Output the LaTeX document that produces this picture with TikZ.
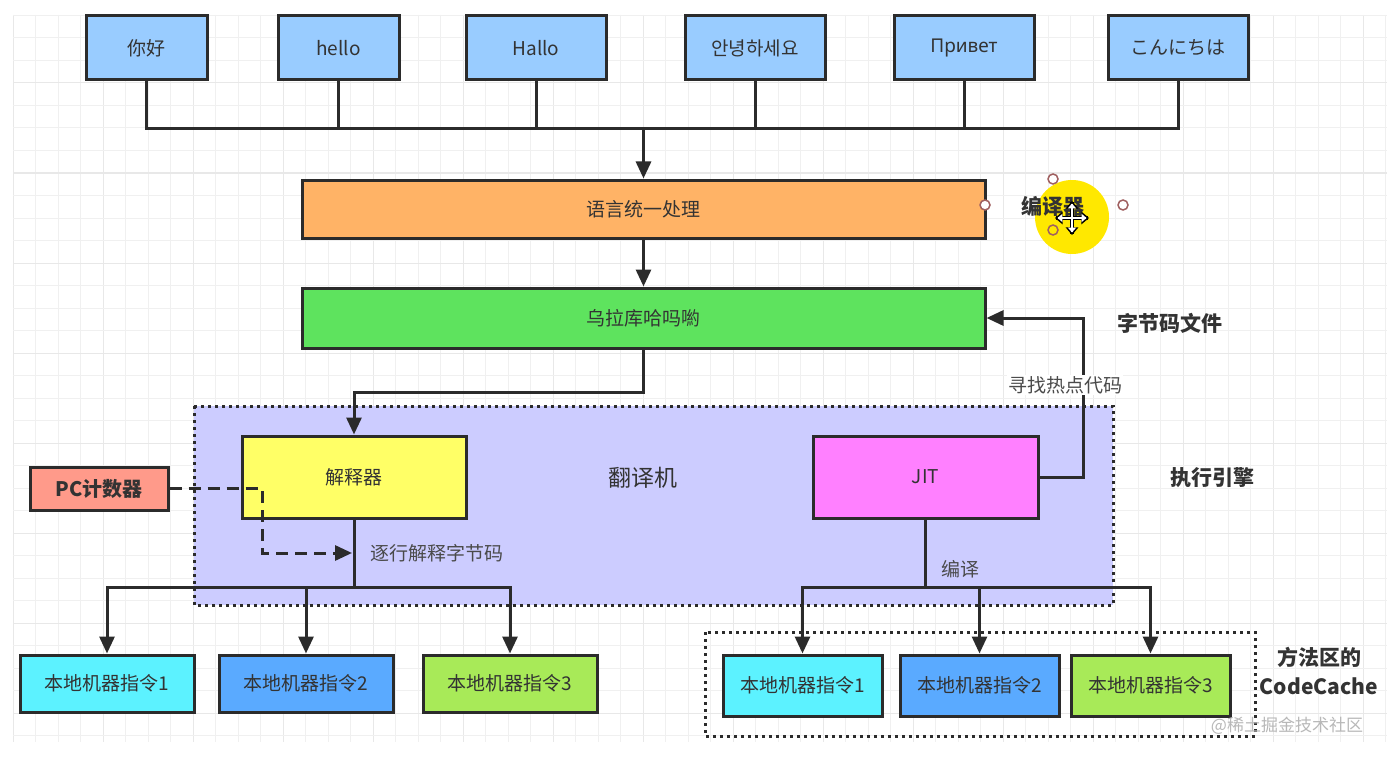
\documentclass[tikz,border=0pt]{standalone}
\usepackage{fontspec}
\setmainfont{Noto Sans CJK SC}
\newfontfamily\krfont{Noto Sans CJK KR}
\newfontfamily\rufont{Noto Sans}
\usetikzlibrary{arrows.meta,calc}
\definecolor{topblue}{HTML}{99CCFF}
\definecolor{orangec}{HTML}{FFB366}
\definecolor{greenc}{HTML}{5EE35E}
\definecolor{regionc}{HTML}{CCCCFF}
\definecolor{yellowc}{HTML}{FFFF66}
\definecolor{magc}{HTML}{FF80FF}
\definecolor{pcc}{HTML}{FF9A8A}
\definecolor{cyanc}{HTML}{5CF2FF}
\definecolor{bluec}{HTML}{5AAAFF}
\definecolor{limec}{HTML}{A8EA58}
\definecolor{linec}{HTML}{2B2B2B}
\definecolor{txtc}{HTML}{333333}
\definecolor{lbltxt}{HTML}{4A4A4A}
\definecolor{gridminor}{HTML}{F0F0F0}
\definecolor{gridmajor}{HTML}{E8E8E8}
\definecolor{hilite}{HTML}{FFE800}
\definecolor{handlec}{HTML}{A06060}
\tikzset{
  box/.style={draw=linec, line width=3pt, rectangle, text=txtc, inner sep=0pt,
    font=\fontsize{19pt}{23pt}\selectfont},
  conn/.style={draw=linec, line width=3pt},
  arr/.style={conn, -{Triangle[length=17pt,width=15pt]}},
  lbl/.style={text=lbltxt, inner sep=1pt, font=\fontsize{19pt}{23pt}\selectfont},
  bigl/.style={text=txtc, inner sep=0pt, font=\fontsize{21pt}{26pt}\selectfont\bfseries},
  regionbox/.style={draw=linec, line width=3pt, dash pattern=on 3pt off 4pt},
  handle/.style={draw=handlec, line width=1.5pt, fill=white, circle, minimum size=10pt, inner sep=0pt},
}
\begin{document}
\begin{tikzpicture}[x=1pt,y=-1pt]
\useasboundingbox (0,0) rectangle (1387,757);
\fill[white] (0,0) rectangle (1387,757);
% grid
\foreach \k in {0,...,61}{
  \pgfmathtruncatemacro{\m}{mod(\k,4)}
  \ifnum\m=0 \def\gc{gridmajor}\else\def\gc{gridminor}\fi
  \draw[\gc, line width=1pt] ({13+\k*22.5},15) -- ({13+\k*22.5},742);
}
\foreach \k in {0,...,32}{
  \pgfmathtruncatemacro{\m}{mod(\k,4)}
  \ifnum\m=3 \def\gc{gridmajor}\else\def\gc{gridminor}\fi
  \draw[\gc, line width=1pt] (13,{15.5+\k*22.5}) -- (1387,{15.5+\k*22.5});
}
% region
\fill[regionc] (194,406) rectangle (1113,605);
\draw[regionbox] (194,406) rectangle (1113,605);
\draw[regionbox] (705,632) rectangle (1255,736);

% top boxes
\node[box, fill=topblue, minimum width=121pt, minimum height=64pt] (n1) at (146.5,48) {你好};
\node[box, fill=topblue, minimum width=121pt, minimum height=64pt] (n2) at (338.5,48) {hello};
\node[box, fill=topblue, minimum width=140pt, minimum height=64pt] (n3) at (536,48) {Hallo};
\node[box, fill=topblue, minimum width=140pt, minimum height=64pt] (n4) at (755,48) {\krfont 안녕하세요};
\node[box, fill=topblue, minimum width=140pt, minimum height=64pt] (n5) at (964,48) {\rufont Привет};
\node[box, fill=topblue, minimum width=140pt, minimum height=64pt] (n6) at (1178,48) {こんにちは};

\node[box, fill=orangec, minimum width=683pt, minimum height=58pt] (uni) at (643.5,209) {语言统一处理};
\node[box, fill=greenc, minimum width=683pt, minimum height=60pt] (byte) at (643.5,318) {乌拉库哈吗喲};

\node[box, fill=yellowc, minimum width=224pt, minimum height=82pt] (interp) at (354,477) {解释器};
\node[box, fill=magc, minimum width=225pt, minimum height=82pt] (jit) at (925.5,477) {JIT};
\node[text=txtc, font=\fontsize{23pt}{28pt}\selectfont] (trans) at (643,478) {翻译机};
\node[box, fill=pcc, minimum width=138pt, minimum height=43pt, font=\fontsize{20pt}{24pt}\selectfont\bfseries] (pc) at (99,488.5) {PC计数器};

\node[box, fill=cyanc, minimum width=174pt, minimum height=57pt] (l1) at (107,683.5) {本地机器指令1};
\node[box, fill=bluec, minimum width=174pt, minimum height=57pt] (l2) at (306,683.5) {本地机器指令2};
\node[box, fill=limec, minimum width=174pt, minimum height=57pt] (l3) at (510,683.5) {本地机器指令3};
\node[box, fill=cyanc, minimum width=159pt, minimum height=61pt] (r1) at (802.5,685.5) {本地机器指令1};
\node[box, fill=bluec, minimum width=159pt, minimum height=61pt] (r2) at (979.5,685.5) {本地机器指令2};
\node[box, fill=limec, minimum width=159pt, minimum height=61pt] (r3) at (1150.5,685.5) {本地机器指令3};

% top connectors
\coordinate (bus) at (643.5,129);
\foreach \n in {n1,n2,n3,n4,n5,n6}{ \draw[conn] (\n.south) |- (bus); }
\draw[arr] (bus) -- (uni.north);
\draw[arr] (uni.south) -- (byte.north);
\coordinate (b1) at (643.5,392);
\draw[arr] (byte.south) -- (b1) -| (interp.north);

% JIT back to bytecode
\coordinate (jr) at (1083,477);
\draw[arr] (jit.east) -- (jr) |- (byte.east);
\node[lbl, fill=white] (hot) at (1065,385) {寻找热点代码};

% PC dashed
\coordinate (pcbend) at (262,553);
\coordinate (pcend) at (352,553);
\draw[conn, dash pattern=on 12pt off 7pt, -{Triangle[length=17pt,width=15pt]}] (pc.east) -| (pcbend) -- (pcend);
\node[lbl] (zhu) at (437,553) {逐行解释字节码};

% interp outputs
\coordinate (ib) at (354,587);
\draw[conn] (interp.south) -- (ib);
\draw[arr] (ib) -| (l1.north);
\draw[arr] (ib) -| (l2.north);
\draw[arr] (ib) -| (l3.north);

% JIT outputs
\coordinate (jb) at (925.5,587);
\draw[conn] (jit.south) -- (jb);
\draw[arr] (jb) -| (r1.north);
\draw[arr] (jb) -| (r2.north);
\draw[arr] (jb) -| (r3.north);
\node[lbl] (bianyi) at (960,569) {编译};

% side labels
\fill[hilite] (1072,217) circle (37);
\node[bigl] (comp) at (1053,206) {编译器};
\node[handle] (h1) at (985,205) {};
\node[handle] (h2) at (1053,179) {};
\node[handle] (h3) at (1123,205) {};
\node[handle, fill=hilite] (h4) at (1053,230) {};
% move cursor
\draw[black, line width=4.5pt] (1072,202) -- (1072,234) (1056,218) -- (1088,218);
\foreach \a in {0,90,180,270}{
  \fill[black] (1072,218) ++(\a:17) -- ++(\a+140:10) -- ++(\a-90:12.9) -- cycle;
}
\draw[white, line width=2pt] (1072,204) -- (1072,232) (1058,218) -- (1086,218);
\foreach \a in {0,90,180,270}{
  \fill[white] (1072,218) ++(\a:14.5) -- ++(\a+140:6.5) -- ++(\a-90:8.4) -- cycle;
}
\node[bigl] (bcf) at (1170,323) {字节码文件};
\node[bigl] (eng) at (1212,478) {执行引擎};
\node[bigl, align=center, font=\fontsize{21pt}{29pt}\selectfont\bfseries] (cc) at (1319,671) {方法区的\\CodeCache};
\node[text=black!28, font=\fontsize{17pt}{20pt}\selectfont] (wm) at (1287,726) {@稀土掘金技术社区};
\end{tikzpicture}
\end{document}
